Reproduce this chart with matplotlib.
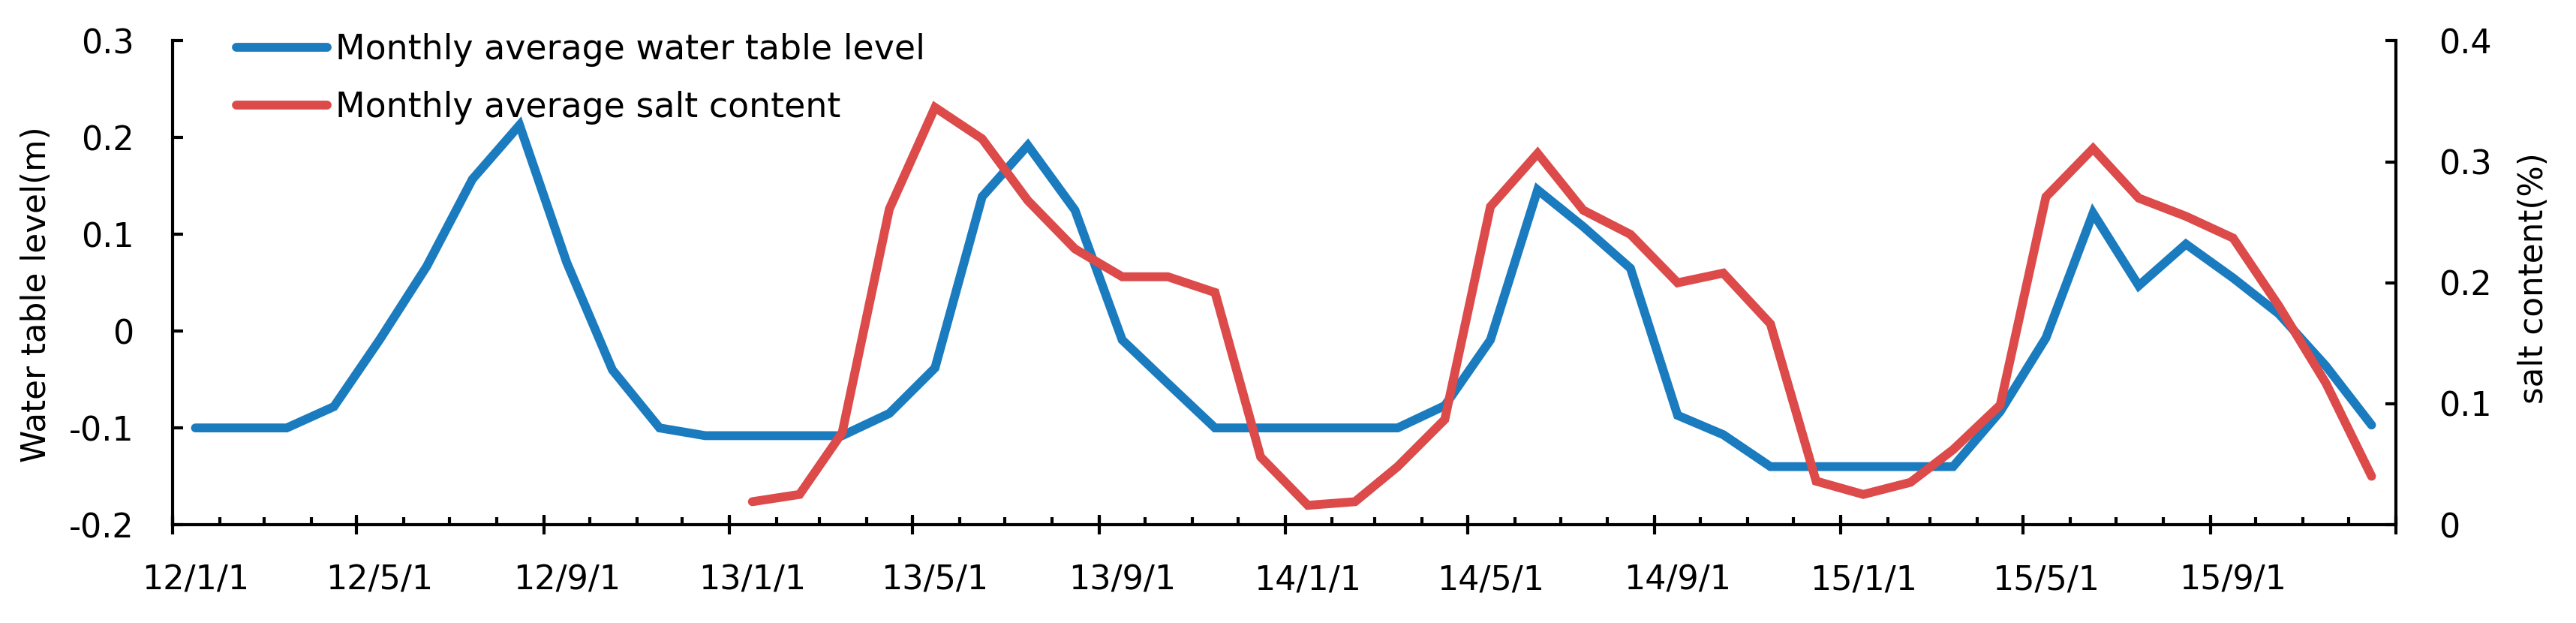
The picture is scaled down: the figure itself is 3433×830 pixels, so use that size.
import matplotlib
matplotlib.use("Agg")
import matplotlib.pyplot as plt
import matplotlib.dates as mdates
import numpy as np
import datetime as dt

# ---------------- data ----------------
years = [2012, 2013, 2014, 2015]
month_numbers = list(range(1, 13))

water_level = [
    -0.100, -0.100, -0.100, -0.078, -0.009, 0.067, 0.157, 0.213, 0.071, -0.040, -0.100, -0.108,
    -0.108, -0.108, -0.108, -0.085, -0.038, 0.139, 0.192, 0.125, -0.009, -0.054, -0.100, -0.100,
    -0.100, -0.100, -0.100, -0.077, -0.009, 0.146, 0.108, 0.065, -0.087, -0.107, -0.140, -0.140,
    -0.140, -0.140, -0.140, -0.083, -0.007, 0.122, 0.047, 0.090, 0.055, 0.018, -0.036, -0.097,
]
salt_content = [np.nan] * 12 + [
    0.019, 0.025, 0.076, 0.261, 0.345, 0.319, 0.268, 0.228, 0.205, 0.205, 0.192, 0.056,
    0.016, 0.019, 0.048, 0.087, 0.263, 0.307, 0.260, 0.240, 0.200, 0.208, 0.166, 0.036,
    0.025, 0.035, 0.062, 0.099, 0.271, 0.311, 0.270, 0.255, 0.237, 0.181, 0.117, 0.040,
]
label_months = [1, 5, 9]
left_ticks = [-0.2, -0.1, 0, 0.1, 0.2, 0.3]
left_ticklabels = ["-0.2", "-0.1", "0", "0.1", "0.2", "0.3"]
right_ticks = [0, 0.1, 0.2, 0.3, 0.4]
right_ticklabels = ["0", "0.1", "0.2", "0.3", "0.4"]
series_labels = ["Monthly average water table level", "Monthly average salt content"]

FONT = "DejaVu Sans"
plt.rcParams["font.family"] = FONT

BLUE = "#1a7bbf"
RED = "#dc4a4a"

dates = [dt.date(y, m, 16) for y in years for m in month_numbers]
xd = mdates.date2num(dates)

fig = plt.figure(figsize=(34.33, 8.3), dpi=100)
ax = fig.add_axes([230 / 3433, 1 - 699 / 830, 2963 / 3433, 644.5 / 830])
ax2 = ax.twinx()

ax.plot(xd, water_level, color=BLUE, lw=8.5, solid_joinstyle="miter", solid_capstyle="round",
        label=series_labels[0], zorder=3)
ax2.plot(xd, salt_content, color=RED, lw=8.5, solid_joinstyle="miter", solid_capstyle="round",
         label=series_labels[1], zorder=3)

x0 = mdates.date2num(dt.date(2012, 1, 1))
x1 = mdates.date2num(dt.date(2016, 1, 1))
ax.set_xlim(x0, x1)
ax.set_ylim(-0.2, 0.3)
ax2.set_ylim(0, 0.4)

# x ticks: labels centred in month bins, minor ticks at every month start
label_pos = [mdates.date2num(dt.date(y, m, 16)) for y in years for m in label_months]
label_txt = [f"{y % 100}/{m}/1" for y in years for m in label_months]
ax.set_xticks(label_pos)
ax.set_xticklabels(label_txt)
month_starts = [mdates.date2num(dt.date(y, m, 1)) for y in years for m in month_numbers] + [x1]
ax.set_xticks(month_starts, minor=True)
ax.tick_params(axis="x", which="major", length=0, pad=38, labelsize=32)
ax.tick_params(axis="x", which="minor", direction="in", length=7.5, width=3)

sec = ax.secondary_xaxis("bottom")
major_starts = [mdates.date2num(dt.date(y, m, 1)) for y in years for m in label_months] + [x1]
sec.set_xticks(major_starts)
sec.set_xticklabels([""] * len(major_starts))
sec.tick_params(axis="x", direction="inout", length=19, width=3)
sec.spines["bottom"].set_visible(False)

ax.set_yticks(left_ticks)
ax.set_yticklabels(left_ticklabels)
ax.tick_params(axis="y", direction="in", length=10, width=3, pad=37, labelsize=32)
ax2.set_yticks(right_ticks)
ax2.set_yticklabels(right_ticklabels)
ax2.tick_params(axis="y", direction="in", length=10, width=3, pad=41, labelsize=32)

for a in (ax, ax2):
    a.spines["top"].set_visible(False)
    for s in a.spines.values():
        s.set_linewidth(3)
ax.spines["right"].set_visible(False)
ax2.spines["left"].set_visible(False)
ax2.spines["bottom"].set_visible(False)

ax.set_ylabel("Water table level(m)", fontsize=31.4)
ax.yaxis.set_label_coords(-0.054, 0.476)
ax2.set_ylabel("salt content(%)", fontsize=31.4)
ax2.yaxis.set_label_coords(1.0547, 0.509)

h1, l1 = ax.get_legend_handles_labels()
h2, l2 = ax2.get_legend_handles_labels()
leg = ax2.legend(h1 + h2, l1 + l2, loc="upper left", bbox_to_anchor=(315 / 3433, 1 - 44 / 830),
                 bbox_transform=fig.transFigure, frameon=False,
                 prop={"size": 33}, handlelength=2.64, handletextpad=0.24,
                 labelspacing=0.7, borderaxespad=0, borderpad=0)
leg.set_zorder(2)

fig.savefig("out.png", dpi=100)
